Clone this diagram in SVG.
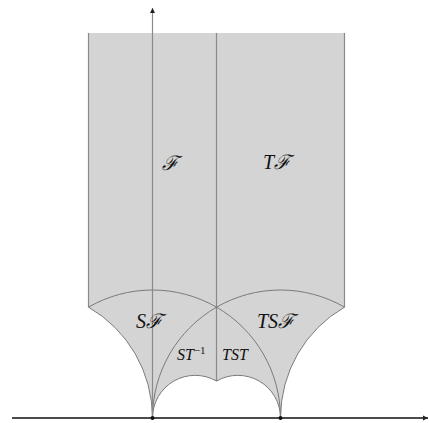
<svg xmlns="http://www.w3.org/2000/svg" width="429" height="423" viewBox="0 0 429 423">
<style>
.edge{fill:none;stroke:#8a8a8a;stroke-width:1.2}
.arc{fill:none;stroke:#7a7a7a;stroke-width:1}
.lbl{font-family:"Liberation Serif","DejaVu Serif",serif;font-style:italic;fill:#111}
.big{font-size:20px}
.small{font-size:16px}
</style>
<defs>
<marker id="ah" markerWidth="6" markerHeight="6" refX="5" refY="3" orient="auto" markerUnits="userSpaceOnUse">
<path d="M0,0.5 L5,3 L0,5.5 Z" fill="#222"/>
</marker>
</defs>
<rect width="429" height="423" fill="#fff"/>
<g id="region">
<path d="M88.5 33 L344.5 33 L344.5 307.15 A128 128 0 0 0 280.5 418 A42.667 42.667 0 0 0 216.5 381.05 A42.667 42.667 0 0 0 152.5 418 A128 128 0 0 0 88.5 307.15 Z" fill="#d4d4d4"/>
</g>
<g id="connectors">
<path class="edge" d="M88.5 33 V307.15"/>
<path class="edge" d="M344.5 33 V307.15"/>
<path class="edge" d="M216.5 33 V381.05"/>
<path class="arc" d="M88.5 307.15 A128 128 0 0 1 280.5 418"/>
<path class="arc" d="M152.5 418 A128 128 0 0 1 344.5 307.15"/>
<path class="arc" d="M344.5 307.15 A128 128 0 0 0 280.5 418"/>
<path class="arc" d="M280.5 418 A42.667 42.667 0 0 0 216.5 381.05 A42.667 42.667 0 0 0 152.5 418"/>
<path class="arc" d="M152.5 418 A128 128 0 0 0 88.5 307.15"/>
<line x1="152.5" y1="418" x2="152.5" y2="8" stroke="#8a8a8a" stroke-width="1.2" marker-end="url(#ah)"/>
<line x1="12" y1="418" x2="428" y2="418" stroke="#111" stroke-width="1.3" marker-end="url(#ah)"/>
<circle cx="152.5" cy="418" r="2" fill="#111"/>
<circle cx="280.5" cy="418" r="2" fill="#111"/>
</g>
<g id="labels">
<text class="lbl big" x="162" y="170">ℱ</text>
<text class="lbl big" x="263" y="169">Tℱ</text>
<text class="lbl big" x="136" y="328">Sℱ</text>
<text class="lbl big" x="257" y="328">TSℱ</text>
<text class="lbl small" x="177" y="360">ST<tspan font-size="11" dy="-6" font-style="normal">−1</tspan></text>
<text class="lbl small" x="222" y="360">TST</text>
</g>
</svg>
